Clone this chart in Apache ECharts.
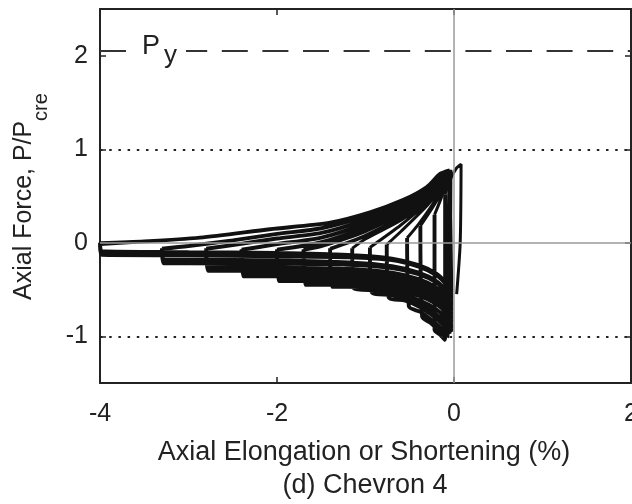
<!DOCTYPE html>
<html>
<head>
<meta charset="utf-8">
<script src="https://cdn.jsdelivr.net/npm/echarts@6/dist/echarts.min.js"></script>
<style>
  html, body { margin: 0; padding: 0; background: #fff; }
  #chart { width: 632px; height: 504px; }
</style>
</head>
<body>
<div id="chart"></div>
<script>
// tick labels
var xTicks = [-4, -2, 0, 2];
var yTicks = [-1, 0, 1, 2];
var refLevels = [1, -1];   // dotted lines
var pyLevel = 2.05;        // dashed P_y line

// first elastic loading (thin spike at the right)
var initialLoading = [[0.03, -0.55], [0.07, 0.0], [0.08, 0.84]];

// compression branches, one per cycle: peak -> max shortening
var compressionBranches = [
  [[0.03, 0.8], [-0.04, 0.68], [-0.1, 0.52]],
  [[-0.04, 0.78], [-0.1, 0.6], [-0.16, 0.44], [-0.22, 0.3]],
  [[-0.05, 0.77], [-0.12, 0.58], [-0.24, 0.38], [-0.38, 0.18]],
  [[-0.05, 0.77], [-0.13, 0.58], [-0.27, 0.37], [-0.4, 0.2], [-0.53, 0.05]],
  [[-0.05, 0.77], [-0.14, 0.6], [-0.3, 0.4], [-0.6, 0.12], [-0.76, -0.02]],
  [[-0.05, 0.77], [-0.15, 0.61], [-0.3, 0.43], [-0.6, 0.19], [-0.95, -0.05]],
  [[-0.05, 0.77], [-0.15, 0.62], [-0.3, 0.45], [-0.6, 0.24], [-1.0, 0.04], [-1.15, -0.06]],
  [[-0.05, 0.77], [-0.15, 0.63], [-0.3, 0.47], [-0.6, 0.28], [-1.0, 0.08], [-1.4, -0.06]],
  [[-0.05, 0.765], [-0.15, 0.62], [-0.3, 0.46], [-0.6, 0.27], [-1.0, 0.07], [-1.4, -0.07]],
  [[-0.05, 0.77], [-0.15, 0.64], [-0.3, 0.49], [-0.6, 0.32], [-1.0, 0.13], [-1.5, -0.03], [-1.7, -0.07]],
  [[-0.05, 0.765], [-0.15, 0.63], [-0.3, 0.48], [-0.6, 0.31], [-1.0, 0.12], [-1.5, -0.04], [-1.7, -0.08]],
  [[-0.05, 0.78], [-0.15, 0.65], [-0.3, 0.51], [-0.6, 0.35], [-1.0, 0.17], [-1.5, 0.01], [-2.0, -0.07]],
  [[-0.05, 0.775], [-0.15, 0.64], [-0.3, 0.5], [-0.6, 0.34], [-1.0, 0.16], [-1.5, 0.0], [-2.0, -0.08]],
  [[-0.05, 0.78], [-0.15, 0.66], [-0.3, 0.52], [-0.6, 0.38], [-1.0, 0.21], [-1.5, 0.06], [-2.0, -0.01], [-2.4, -0.07]],
  [[-0.05, 0.775], [-0.15, 0.65], [-0.3, 0.51], [-0.6, 0.37], [-1.0, 0.2], [-1.5, 0.05], [-2.0, -0.02], [-2.4, -0.08]],
  [[-0.05, 0.78], [-0.15, 0.68], [-0.3, 0.55], [-0.6, 0.41], [-1.0, 0.25], [-1.5, 0.11], [-2.0, 0.05], [-2.5, -0.02], [-2.8, -0.06]],
  [[-0.05, 0.775], [-0.15, 0.67], [-0.3, 0.54], [-0.6, 0.4], [-1.0, 0.24], [-1.5, 0.1], [-2.0, 0.04], [-2.5, -0.03], [-2.8, -0.07]],
  [[-0.05, 0.78], [-0.15, 0.7], [-0.3, 0.57], [-0.6, 0.44], [-1.0, 0.29], [-1.5, 0.16], [-2.0, 0.1], [-2.5, 0.03], [-3.0, -0.03], [-3.3, -0.06]],
  [[-0.05, 0.775], [-0.15, 0.69], [-0.3, 0.56], [-0.6, 0.43], [-1.0, 0.28], [-1.5, 0.15], [-2.0, 0.09], [-2.5, 0.02], [-3.0, -0.04], [-3.3, -0.07]],
  [[-0.05, 0.78], [-0.16, 0.74], [-0.31, 0.6], [-0.58, 0.46], [-0.95, 0.33], [-1.4, 0.22], [-2.08, 0.15], [-2.87, 0.06], [-3.5, 0.02], [-4.0, 0.0]],
  [[-0.05, 0.775], [-0.16, 0.73], [-0.31, 0.59], [-0.58, 0.45], [-0.95, 0.32], [-1.4, 0.21], [-2.08, 0.14], [-2.87, 0.05], [-3.5, 0.01], [-4.0, -0.02]]
];

// tension branches, one per cycle: max shortening -> back near zero
var tensionBranches = [
  [[-0.1, -0.95], [-0.06, -1.0]],
  [[-0.22, -0.93], [-0.15, -0.99], [-0.1, -1.04]],
  [[-0.36, -0.79], [-0.26, -0.86], [-0.16, -0.95], [-0.09, -1.03]],
  [[-0.51, -0.68], [-0.38, -0.74], [-0.25, -0.83], [-0.14, -0.92], [-0.06, -1.0]],
  [[-0.74, -0.58], [-0.55, -0.62], [-0.38, -0.69], [-0.24, -0.78], [-0.12, -0.88], [-0.05, -0.97]],
  [[-0.93, -0.53], [-0.7, -0.56], [-0.48, -0.62], [-0.3, -0.7], [-0.17, -0.79], [-0.07, -0.89], [-0.03, -0.95]],
  [[-1.13, -0.49], [-0.85, -0.51], [-0.6, -0.55], [-0.38, -0.62], [-0.22, -0.7], [-0.1, -0.8], [-0.03, -0.92]],
  [[-1.38, -0.45], [-1.2, -0.455], [-0.7, -0.48], [-0.4, -0.55], [-0.2, -0.64], [-0.08, -0.75], [-0.03, -0.85]],
  [[-1.38, -0.47], [-1.2, -0.47], [-0.7, -0.495], [-0.4, -0.565], [-0.2, -0.655], [-0.08, -0.765], [-0.03, -0.865]],
  [[-1.68, -0.42], [-1.2, -0.43], [-0.7, -0.46], [-0.4, -0.52], [-0.2, -0.61], [-0.08, -0.72], [-0.03, -0.8]],
  [[-1.68, -0.45], [-1.2, -0.45], [-0.7, -0.475], [-0.4, -0.535], [-0.2, -0.625], [-0.08, -0.735], [-0.03, -0.815]],
  [[-1.98, -0.38], [-1.2, -0.39], [-0.7, -0.42], [-0.4, -0.48], [-0.2, -0.57], [-0.08, -0.68], [-0.03, -0.76]],
  [[-1.98, -0.41], [-1.2, -0.41], [-0.7, -0.435], [-0.4, -0.495], [-0.2, -0.585], [-0.08, -0.695], [-0.03, -0.775]],
  [[-2.38, -0.33], [-2.0, -0.33], [-1.2, -0.34], [-0.7, -0.37], [-0.4, -0.44], [-0.2, -0.53], [-0.08, -0.64], [-0.03, -0.72]],
  [[-2.38, -0.36], [-2.0, -0.36], [-1.2, -0.36], [-0.7, -0.385], [-0.4, -0.455], [-0.2, -0.545], [-0.08, -0.655], [-0.03, -0.735]],
  [[-2.78, -0.26], [-2.0, -0.265], [-1.2, -0.28], [-0.7, -0.32], [-0.4, -0.39], [-0.2, -0.48], [-0.08, -0.59], [-0.03, -0.67]],
  [[-2.78, -0.3], [-2.0, -0.3], [-1.2, -0.305], [-0.7, -0.34], [-0.4, -0.405], [-0.2, -0.495], [-0.08, -0.605], [-0.03, -0.685]],
  [[-3.28, -0.18], [-3.0, -0.18], [-2.0, -0.19], [-1.2, -0.21], [-0.7, -0.25], [-0.4, -0.32], [-0.2, -0.41], [-0.08, -0.52], [-0.03, -0.6]],
  [[-3.28, -0.22], [-3.0, -0.22], [-2.0, -0.225], [-1.2, -0.235], [-0.7, -0.27], [-0.4, -0.335], [-0.2, -0.425], [-0.08, -0.535], [-0.03, -0.615]],
  [[-3.98, -0.09], [-3.0, -0.1], [-2.0, -0.11], [-1.2, -0.13], [-0.7, -0.17], [-0.4, -0.24], [-0.2, -0.33], [-0.08, -0.44], [-0.03, -0.53]],
  [[-3.98, -0.13], [-3.0, -0.135], [-2.0, -0.145], [-1.2, -0.155], [-0.7, -0.185], [-0.4, -0.255], [-0.2, -0.345], [-0.08, -0.455], [-0.03, -0.545]]
];

// compression lines and tension lines (with the drops and reloads) as two series
var GAP = ['-', '-'];
var compData = initialLoading.slice();
var tensData = [];
compressionBranches.forEach(function (c, i) {
  compData = compData.concat(c, [GAP]);
  var seg = [c[c.length - 1]].concat(tensionBranches[i]);
  if (i + 1 < compressionBranches.length) seg.push(compressionBranches[i + 1][0]);
  tensData = tensData.concat(seg, [GAP]);
});

var FONT = 'Liberation Sans, Arial, sans-serif';
var INK = '#222';

var chart = echarts.init(document.getElementById('chart'));

function boxAxis(pos, isX, labels) {
  var ax = {
    type: 'value',
    position: pos,
    axisLine: { show: true, onZero: false, lineStyle: { color: INK, width: 2 } },
    axisTick: { show: true, inside: true, length: 6, lineStyle: { color: INK, width: 1.5 } },
    axisLabel: { show: labels, color: INK, fontSize: 25, fontFamily: FONT },
    splitLine: { show: false }
  };
  if (isX) {
    ax.min = -4; ax.max = 2; ax.interval = 2;
    ax.axisLabel.margin = 19;
    ax.axisLabel.alignMinLabel = 'center';
    ax.axisLabel.alignMaxLabel = 'center';
  } else {
    ax.min = -1.5; ax.max = 2.5;
    ax.axisTick.customValues = yTicks;
    ax.axisLabel.customValues = yTicks;
    ax.axisLabel.margin = 12;
  }
  return ax;
}

var curveStyle = { type: 'line', z: 3, showSymbol: false, smooth: 0.25, silent: true, connectNulls: false };

chart.setOption({
  animation: false,
  backgroundColor: '#fff',
  grid: { left: 100, right: 1, top: 9, bottom: 121, containLabel: false, outerBoundsMode: 'none' },
  xAxis: [boxAxis('bottom', true, true), boxAxis('top', true, false)],
  yAxis: [boxAxis('left', false, true), boxAxis('right', false, false)],
  series: [
    {
      type: 'line',
      data: [],
      silent: true,
      z: 1,
      markLine: {
        silent: true,
        symbol: 'none',
        label: { show: false },
        animation: false,
        data: [
          { yAxis: 0, lineStyle: { color: '#9a9a9a', width: 1.5, type: 'solid' } },
          { xAxis: 0, lineStyle: { color: '#9a9a9a', width: 1.5, type: 'solid' } },
          { yAxis: refLevels[0], lineStyle: { color: INK, width: 2, type: [2.5, 6.7] } },
          { yAxis: refLevels[1], lineStyle: { color: INK, width: 2, type: [2.5, 6.7] } },
          { yAxis: pyLevel, lineStyle: { color: '#333', width: 2, type: [26, 14.6] } }
        ]
      }
    },
    Object.assign({ data: tensData, lineStyle: { color: '#111', width: 3.9 } }, curveStyle),
    Object.assign({ data: compData, lineStyle: { color: '#111', width: 3.0 } }, curveStyle)
  ]
});

var py = chart.convertToPixel({ gridIndex: 0 }, [-4, pyLevel]);
chart.setOption({
  graphic: [
    { type: 'rect', z: 20, shape: { x: py[0] + 28, y: py[1] - 16, width: 58, height: 30 }, style: { fill: '#fff' } },
    { type: 'text', z: 21, x: py[0] + 42, y: py[1] - 4.5, style: { text: 'P', fontSize: 27, fontFamily: FONT, fill: INK, verticalAlign: 'middle' } },
    { type: 'text', z: 21, x: py[0] + 64, y: py[1] + 4.5, style: { text: 'y', fontSize: 26, fontFamily: FONT, fill: INK, verticalAlign: 'middle' } },
    { type: 'text', z: 21, x: 24, y: 300, rotation: Math.PI / 2, style: { text: 'Axial Force, P/P', fontSize: 25, fontFamily: FONT, fill: INK, align: 'left', verticalAlign: 'middle' } },
    { type: 'text', z: 21, x: 41, y: 121, rotation: Math.PI / 2, style: { text: 'cre', fontSize: 20, fontFamily: FONT, fill: INK, align: 'left', verticalAlign: 'middle' } },
    { type: 'text', z: 21, x: 364, y: 453, style: { text: 'Axial Elongation or Shortening (%)', fontSize: 27, fontFamily: FONT, fill: INK, align: 'center', verticalAlign: 'middle' } },
    { type: 'text', z: 21, x: 365, y: 486, style: { text: '(d) Chevron 4', fontSize: 27, fontFamily: FONT, fill: INK, align: 'center', verticalAlign: 'middle' } }
  ]
});
</script>
</body>
</html>
